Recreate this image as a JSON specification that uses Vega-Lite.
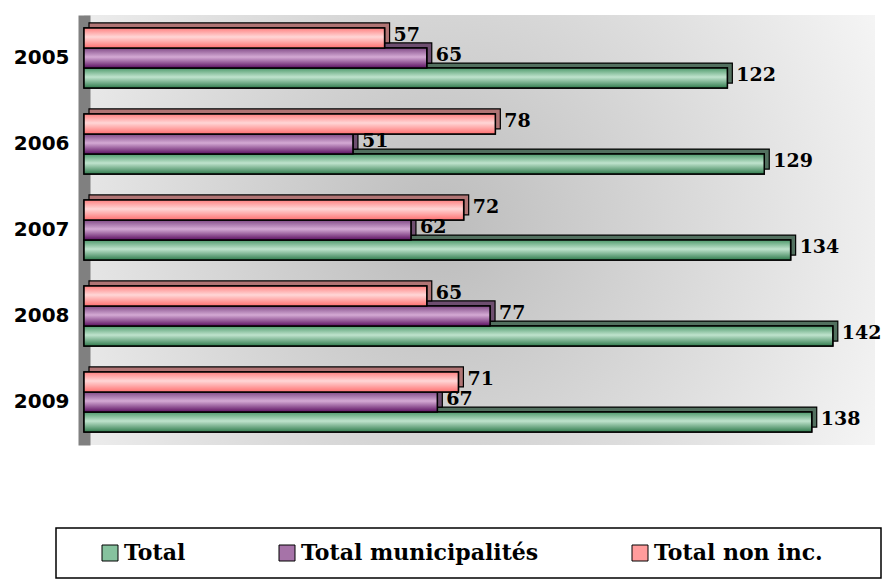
{
  "$schema": "https://vega.github.io/schema/vega-lite/v6.json",
  "width": 791,
  "height": 430,
  "padding": {"left": 13, "top": 15, "right": 0, "bottom": 0},
  "background": "#ffffff",
  "config": {
    "view": {"stroke": null, "fill": {"gradient": "radial", "x1": 0.45, "y1": 0.5, "r1": 0, "x2": 0.45, "y2": 0.5, "r2": 0.65, "stops": [{"offset": 0, "color": "#bcbcbc"}, {"offset": 1, "color": "#f8f8f8"}]}}
  },
  "data": {
    "values": [
      {"year": "2005", "series": "Total", "value": 122},
      {"year": "2005", "series": "Total municipalités", "value": 65},
      {"year": "2005", "series": "Total non inc.", "value": 57},
      {"year": "2006", "series": "Total", "value": 129},
      {"year": "2006", "series": "Total municipalités", "value": 51},
      {"year": "2006", "series": "Total non inc.", "value": 78},
      {"year": "2007", "series": "Total", "value": 134},
      {"year": "2007", "series": "Total municipalités", "value": 62},
      {"year": "2007", "series": "Total non inc.", "value": 72},
      {"year": "2008", "series": "Total", "value": 142},
      {"year": "2008", "series": "Total municipalités", "value": 77},
      {"year": "2008", "series": "Total non inc.", "value": 65},
      {"year": "2009", "series": "Total", "value": 138},
      {"year": "2009", "series": "Total municipalités", "value": 67},
      {"year": "2009", "series": "Total non inc.", "value": 71}
    ]
  },
  "encoding": {
    "y": {
      "field": "year", "type": "nominal", "title": null,
      "scale": {"paddingInner": 0.3, "paddingOuter": 0.15},
      "axis": {"labelFont": "DejaVu Sans", "labelFontWeight": "bold", "labelFontSize": 20, "labelColor": "#000", "ticks": false, "labelPadding": 15, "domainColor": "#808080", "domainWidth": 12, "labelAngle": 0}
    },
    "x": {"field": "value", "type": "quantitative", "scale": {"domain": [0, 150], "nice": false}, "axis": null}
  },
  "resolve": {"scale": {"yOffset": "independent"}},
  "layer": [
    {
      "mark": {"type": "bar", "stroke": "#000", "strokeWidth": 1.2, "xOffset": 5},
      "encoding": {
        "yOffset": {"field": "series", "type": "nominal", "sort": ["Total non inc.", "Total municipalités", "Total"], "scale": {"paddingInner": 0, "paddingOuter": 0, "range": [-5, 55.2]}},
        "fill": {
          "condition": [
            {"test": "datum.series === 'Total'", "value": "#52705f"},
            {"test": "datum.series === 'Total municipalités'", "value": "#6e4e70"}
          ],
          "value": "#b07474"
        }
      }
    },
    {
      "encoding": {
        "yOffset": {"field": "series", "type": "nominal", "sort": ["Total non inc.", "Total municipalités", "Total"], "scale": {"paddingInner": 0, "paddingOuter": 0}}
      },
      "layer": [
        {
          "mark": {"type": "bar", "stroke": "#000", "strokeWidth": 1.5},
          "encoding": {
            "color": {
              "field": "series", "type": "nominal",
              "scale": {"domain": ["Total", "Total municipalités", "Total non inc."], "range": ["#86c29e", "#a673a8", "#ff9c9c"]},
              "legend": {
                "title": " ", "titleOrient": "right", "titlePadding": 44,
                "orient": "none", "legendX": -28, "legendY": 513, "direction": "horizontal", "columns": 3,
                "strokeColor": "#000", "fillColor": "#ffffff", "padding": 14,
                "symbolType": "square", "symbolSize": 256, "symbolStrokeColor": "#000", "symbolStrokeWidth": 1, "symbolOpacity": 1,
                "labelFont": "DejaVu Serif", "labelFontWeight": "bold", "labelFontSize": 22, "labelColor": "#000", "labelOffset": 3,
                "columnPadding": 61, "symbolOffset": 29, "labelLimit": 400,
                "encode": {"legend": {"update": {"strokeWidth": {"value": 1.5}}}}
              }
            }
          }
        },
        {
          "transform": [{"filter": "datum.series === 'Total'"}],
          "mark": {"type": "bar", "stroke": "#000", "strokeWidth": 1.5, "fill": {"gradient": "linear", "x1": 0, "y1": 0, "x2": 0, "y2": 1, "stops": [{"offset": 0, "color": "#4f9a6c"}, {"offset": 0.45, "color": "#bfe3cd"}, {"offset": 1, "color": "#2f7a4c"}]}}
        },
        {
          "transform": [{"filter": "datum.series === 'Total municipalités'"}],
          "mark": {"type": "bar", "stroke": "#000", "strokeWidth": 1.5, "fill": {"gradient": "linear", "x1": 0, "y1": 0, "x2": 0, "y2": 1, "stops": [{"offset": 0, "color": "#804a86"}, {"offset": 0.45, "color": "#d4aad4"}, {"offset": 1, "color": "#5a0f60"}]}}
        },
        {
          "transform": [{"filter": "datum.series === 'Total non inc.'"}],
          "mark": {"type": "bar", "stroke": "#000", "strokeWidth": 1.5, "fill": {"gradient": "linear", "x1": 0, "y1": 0, "x2": 0, "y2": 1, "stops": [{"offset": 0, "color": "#ff8080"}, {"offset": 0.45, "color": "#ffd6d6"}, {"offset": 1, "color": "#ff7070"}]}}
        },
        {
          "mark": {"type": "text", "align": "left", "baseline": "middle", "dx": 9, "dy": -3, "font": "DejaVu Serif", "fontWeight": "bold", "fontSize": 19, "color": "#000"},
          "encoding": {"text": {"field": "value", "type": "quantitative"}}
        }
      ]
    }
  ]
}
